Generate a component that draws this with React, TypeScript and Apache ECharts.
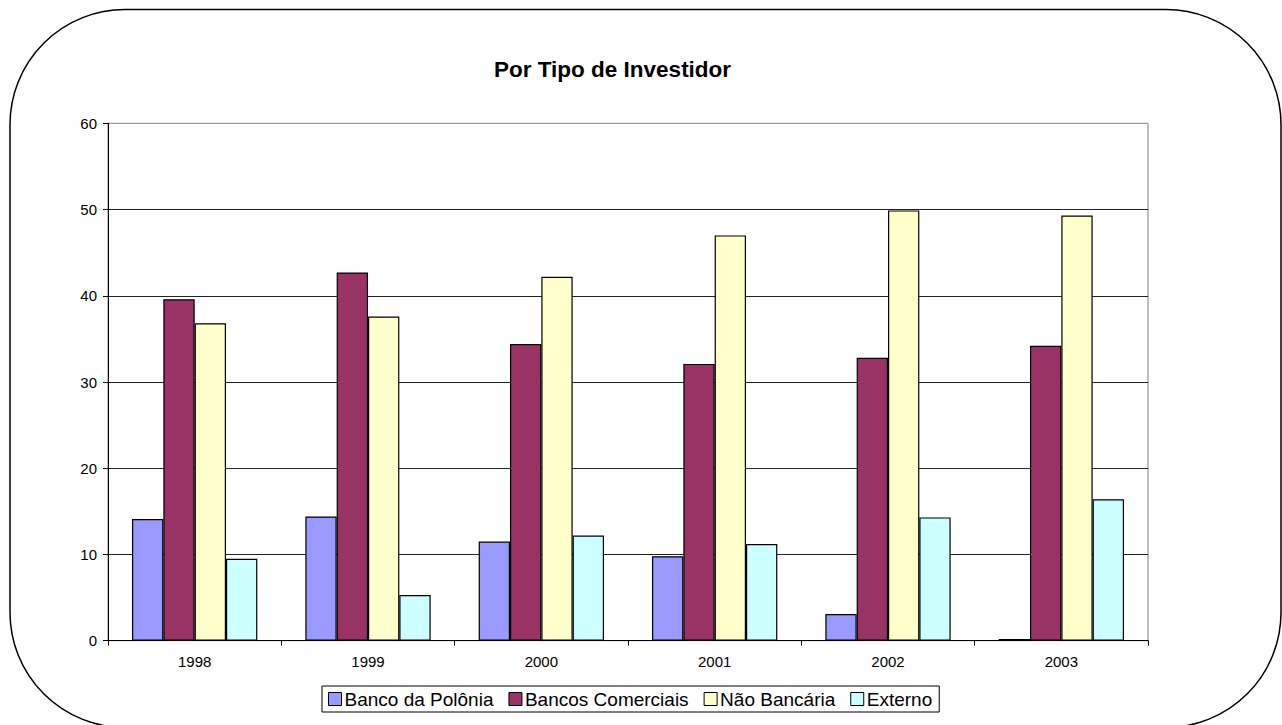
import React, { useEffect, useRef } from "react";
import * as echarts from "echarts";

const years = ["1998", "1999", "2000", "2001", "2002", "2003"];
const seriesNames = ["Banco da Polônia", "Bancos Comerciais", "Não Bancária", "Externo"];
const bancoPolonia = [14.1, 14.4, 11.5, 9.8, 3.1, 0.2];
const bancosComerciais = [39.6, 42.7, 34.4, 32.1, 32.8, 34.2];
const naoBancaria = [36.8, 37.6, 42.2, 47.0, 49.9, 49.3];
const externo = [9.5, 5.3, 12.2, 11.2, 14.3, 16.4];
const colors = ["#9999FF", "#993366", "#FFFFCC", "#CCFFFF"];

const FONT = "'Liberation Sans', Arial, sans-serif";

export default function App() {
  const ref = useRef<HTMLDivElement>(null);
  useEffect(() => {
    if (!ref.current) return;
    const chart = echarts.init(ref.current, undefined, { renderer: "svg" });
    const data = [bancoPolonia, bancosComerciais, naoBancaria, externo];
    chart.setOption({
      animation: false,
      backgroundColor: "#ffffff",
      title: {
        text: "Por Tipo de Investidor",
        left: 494,
        top: 58,
        padding: 0,
        textStyle: { fontFamily: FONT, fontSize: 22.5, fontWeight: "bold", color: "#000" },
      },
      graphic: [
        {
          type: "rect",
          shape: { x: 10, y: 9.5, width: 1271, height: 718, r: 115 },
          style: { fill: "none", stroke: "#000", lineWidth: 1.5 },
          silent: true,
          z: 0,
        },
      ],
      legend: {
        data: seriesNames,
        left: 322,
        top: 686,
        orient: "horizontal",
        backgroundColor: "#fff",
        borderColor: "#000",
        borderWidth: 1,
        padding: [2, 7, 2, 6],
        itemGap: 15,
        itemWidth: 13,
        itemHeight: 13,
        icon: "rect",
        itemStyle: { borderColor: "#000", borderWidth: 1 },
        textStyle: { fontFamily: FONT, fontSize: 19, color: "#000", padding: [0, 0, 0, -2], lineHeight: 22 },
      },
      grid: {
        left: 108,
        top: 123.3,
        right: 134,
        bottom: 84.3,
        show: true,
        borderColor: "#808080",
        borderWidth: 1,
        containLabel: false,
      },
      xAxis: {
        type: "category",
        data: years,
        axisLine: { show: true, lineStyle: { color: "#000", width: 1 } },
        axisTick: { show: true, length: 5, lineStyle: { color: "#000" } },
        axisLabel: { fontFamily: FONT, fontSize: 15, color: "#000", margin: 13 },
        splitLine: { show: false },
      },
      yAxis: {
        type: "value",
        min: 0,
        max: 60,
        interval: 10,
        axisLine: { show: true, lineStyle: { color: "#000", width: 1 } },
        axisTick: { show: true, length: 5, lineStyle: { color: "#000" } },
        axisLabel: { fontFamily: FONT, fontSize: 15, color: "#000", margin: 11 },
        splitLine: { show: true, showMaxLine: false, lineStyle: { color: "#222", width: 1 } },
      },
      series: seriesNames.map((name, i) => ({
        name,
        type: "bar",
        data: data[i],
        barGap: "0%",
        barCategoryGap: "27.7%",
        itemStyle: { color: colors[i], borderColor: "#000", borderWidth: 1.2 },
      })),
    });
    return () => chart.dispose();
  }, []);
  return (
    <div
      ref={ref}
      style={{ position: "fixed", left: 0, top: 0, width: 1282, height: 725 }}
    />
  );
}
